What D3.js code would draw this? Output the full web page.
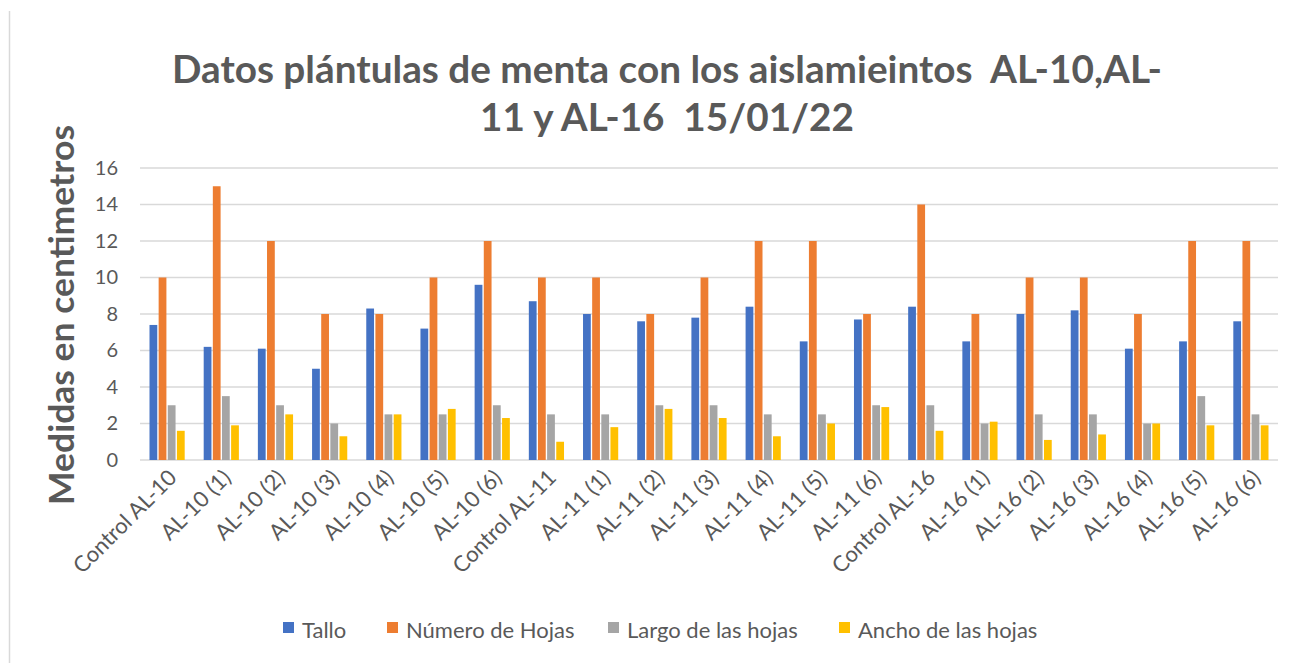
<!DOCTYPE html>
<html>
<head>
<meta charset="utf-8">
<script src="https://cdn.jsdelivr.net/npm/d3@7"></script>
<style>
  body { margin: 0; background: #fff; }
  svg text { font-family: Lato, "Open Sans", sans-serif; fill: #595959; white-space: pre; }
</style>
</head>
<body>
<svg id="chart"></svg>
<script>
const categories = [
  "Control AL-10", "AL-10 (1)", "AL-10 (2)", "AL-10 (3)", "AL-10 (4)", "AL-10 (5)", "AL-10 (6)",
  "Control AL-11", "AL-11 (1)", "AL-11 (2)", "AL-11 (3)", "AL-11 (4)", "AL-11 (5)", "AL-11 (6)",
  "Control AL-16", "AL-16 (1)", "AL-16 (2)", "AL-16 (3)", "AL-16 (4)", "AL-16 (5)", "AL-16 (6)"
];
const seriesNames = ["Tallo", "Número de Hojas", "Largo de las hojas", "Ancho de las hojas"];
const tallo = [7.4, 6.2, 6.1, 5.0, 8.3, 7.2, 9.6, 8.7, 8.0, 7.6, 7.8, 8.4, 6.5, 7.7, 8.4, 6.5, 8.0, 8.2, 6.1, 6.5, 7.6];
const numeroHojas = [10, 15, 12, 8, 8, 10, 12, 10, 10, 8, 10, 12, 12, 8, 14, 8, 10, 10, 8, 12, 12];
const largoHojas = [3, 3.5, 3, 2, 2.5, 2.5, 3, 2.5, 2.5, 3, 3, 2.5, 2.5, 3, 3, 2, 2.5, 2.5, 2, 3.5, 2.5];
const anchoHojas = [1.6, 1.9, 2.5, 1.3, 2.5, 2.8, 2.3, 1.0, 1.8, 2.8, 2.3, 1.3, 2.0, 2.9, 1.6, 2.1, 1.1, 1.4, 2.0, 1.9, 1.9];
const yTicks = [0, 2, 4, 6, 8, 10, 12, 14, 16];
const colors = ["#4472C4", "#ED7D31", "#A5A5A5", "#FFC000"];

const allSeries = [tallo, numeroHojas, largoHojas, anchoHojas];
const rows = categories.map((c, i) => ({
  category: c,
  values: allSeries.map((s, j) => ({ key: seriesNames[j], value: s[i] }))
}));

const width = 1305;
const height = 663;
const margin = { top: 168, right: 27, bottom: 203, left: 140 };

const svg = d3.select("#chart")
  .attr("width", width)
  .attr("height", height);

// chart border (left edge visible)
svg.append("line")
  .attr("x1", 9.5).attr("x2", 9.5)
  .attr("y1", 11).attr("y2", height)
  .attr("stroke", "#d9d9d9")
  .attr("stroke-width", 1.5);

const x0 = d3.scaleBand()
  .domain(categories)
  .range([margin.left, width - margin.right])
  .paddingInner(0.3)
  .paddingOuter(0.15);

const x1 = d3.scaleBand()
  .domain(seriesNames)
  .range([0, x0.bandwidth()])
  .padding(0.15);

const y = d3.scaleLinear()
  .domain([0, 16])
  .range([height - margin.bottom, margin.top]);

// gridlines
svg.append("g")
  .selectAll("line")
  .data(yTicks)
  .enter()
  .append("line")
  .attr("x1", margin.left)
  .attr("x2", width - margin.right)
  .attr("y1", d => y(d))
  .attr("y2", d => y(d))
  .attr("stroke", "#d9d9d9")
  .attr("stroke-width", 1.5);

// y axis labels
const yAxis = svg.append("g")
  .attr("transform", `translate(${margin.left},0)`)
  .call(d3.axisLeft(y).tickValues(yTicks).tickSize(0).tickPadding(22));
yAxis.select(".domain").remove();
yAxis.selectAll("text")
  .attr("font-size", 20)
  .style("font-family", "Lato, sans-serif")
  .attr("fill", "#595959");

// bars
svg.append("g")
  .selectAll("g")
  .data(rows)
  .enter()
  .append("g")
  .attr("transform", d => `translate(${x0(d.category)},0)`)
  .selectAll("rect")
  .data(d => d.values)
  .enter()
  .append("rect")
  .attr("x", d => x1(d.key))
  .attr("y", d => y(d.value))
  .attr("width", x1.bandwidth())
  .attr("height", d => y(0) - y(d.value))
  .attr("fill", (d, i) => colors[i]);

// x axis labels
const xAxis = svg.append("g")
  .attr("transform", `translate(0,${y(0)})`)
  .call(d3.axisBottom(x0).tickSize(0).tickPadding(0));
xAxis.select(".domain").remove();
xAxis.selectAll("text")
  .attr("font-size", 22)
  .style("font-family", "Lato, sans-serif")
  .attr("fill", "#595959")
  .attr("text-anchor", "end")
  .attr("dy", null)
  .attr("transform", "translate(11,19) rotate(-45)");

// title
const title = svg.append("text")
  .attr("text-anchor", "middle")
  .attr("font-weight", "bold")
  .attr("font-size", 38);
title.append("tspan")
  .attr("x", 667).attr("y", 83)
  .text("Datos plántulas de menta con los aislamieintos  AL-10,AL-")
  .attr("textLength", 990)
  .attr("lengthAdjust", "spacingAndGlyphs");
title.append("tspan")
  .attr("x", 667).attr("y", 131)
  .text("11 y AL-16  15/01/22")
  .attr("textLength", 374)
  .attr("lengthAdjust", "spacingAndGlyphs");

// y axis title
svg.append("text")
  .attr("transform", "translate(74,315) rotate(-90)")
  .attr("text-anchor", "middle")
  .attr("font-weight", "bold")
  .attr("font-size", 34)
  .attr("textLength", 380)
  .attr("lengthAdjust", "spacingAndGlyphs")
  .text("Medidas en centimetros");

// legend
const legendX = [283, 387, 608, 839];
const legend = svg.append("g")
  .selectAll("g")
  .data(seriesNames)
  .enter()
  .append("g")
  .attr("transform", (d, i) => `translate(${legendX[i]},630)`);
legend.append("rect")
  .attr("x", 0).attr("y", -8)
  .attr("width", 11).attr("height", 11)
  .attr("fill", (d, i) => colors[i]);
legend.append("text")
  .attr("x", 19).attr("y", 8)
  .attr("font-size", 22)
  .text(d => d);
</script>
</body>
</html>
